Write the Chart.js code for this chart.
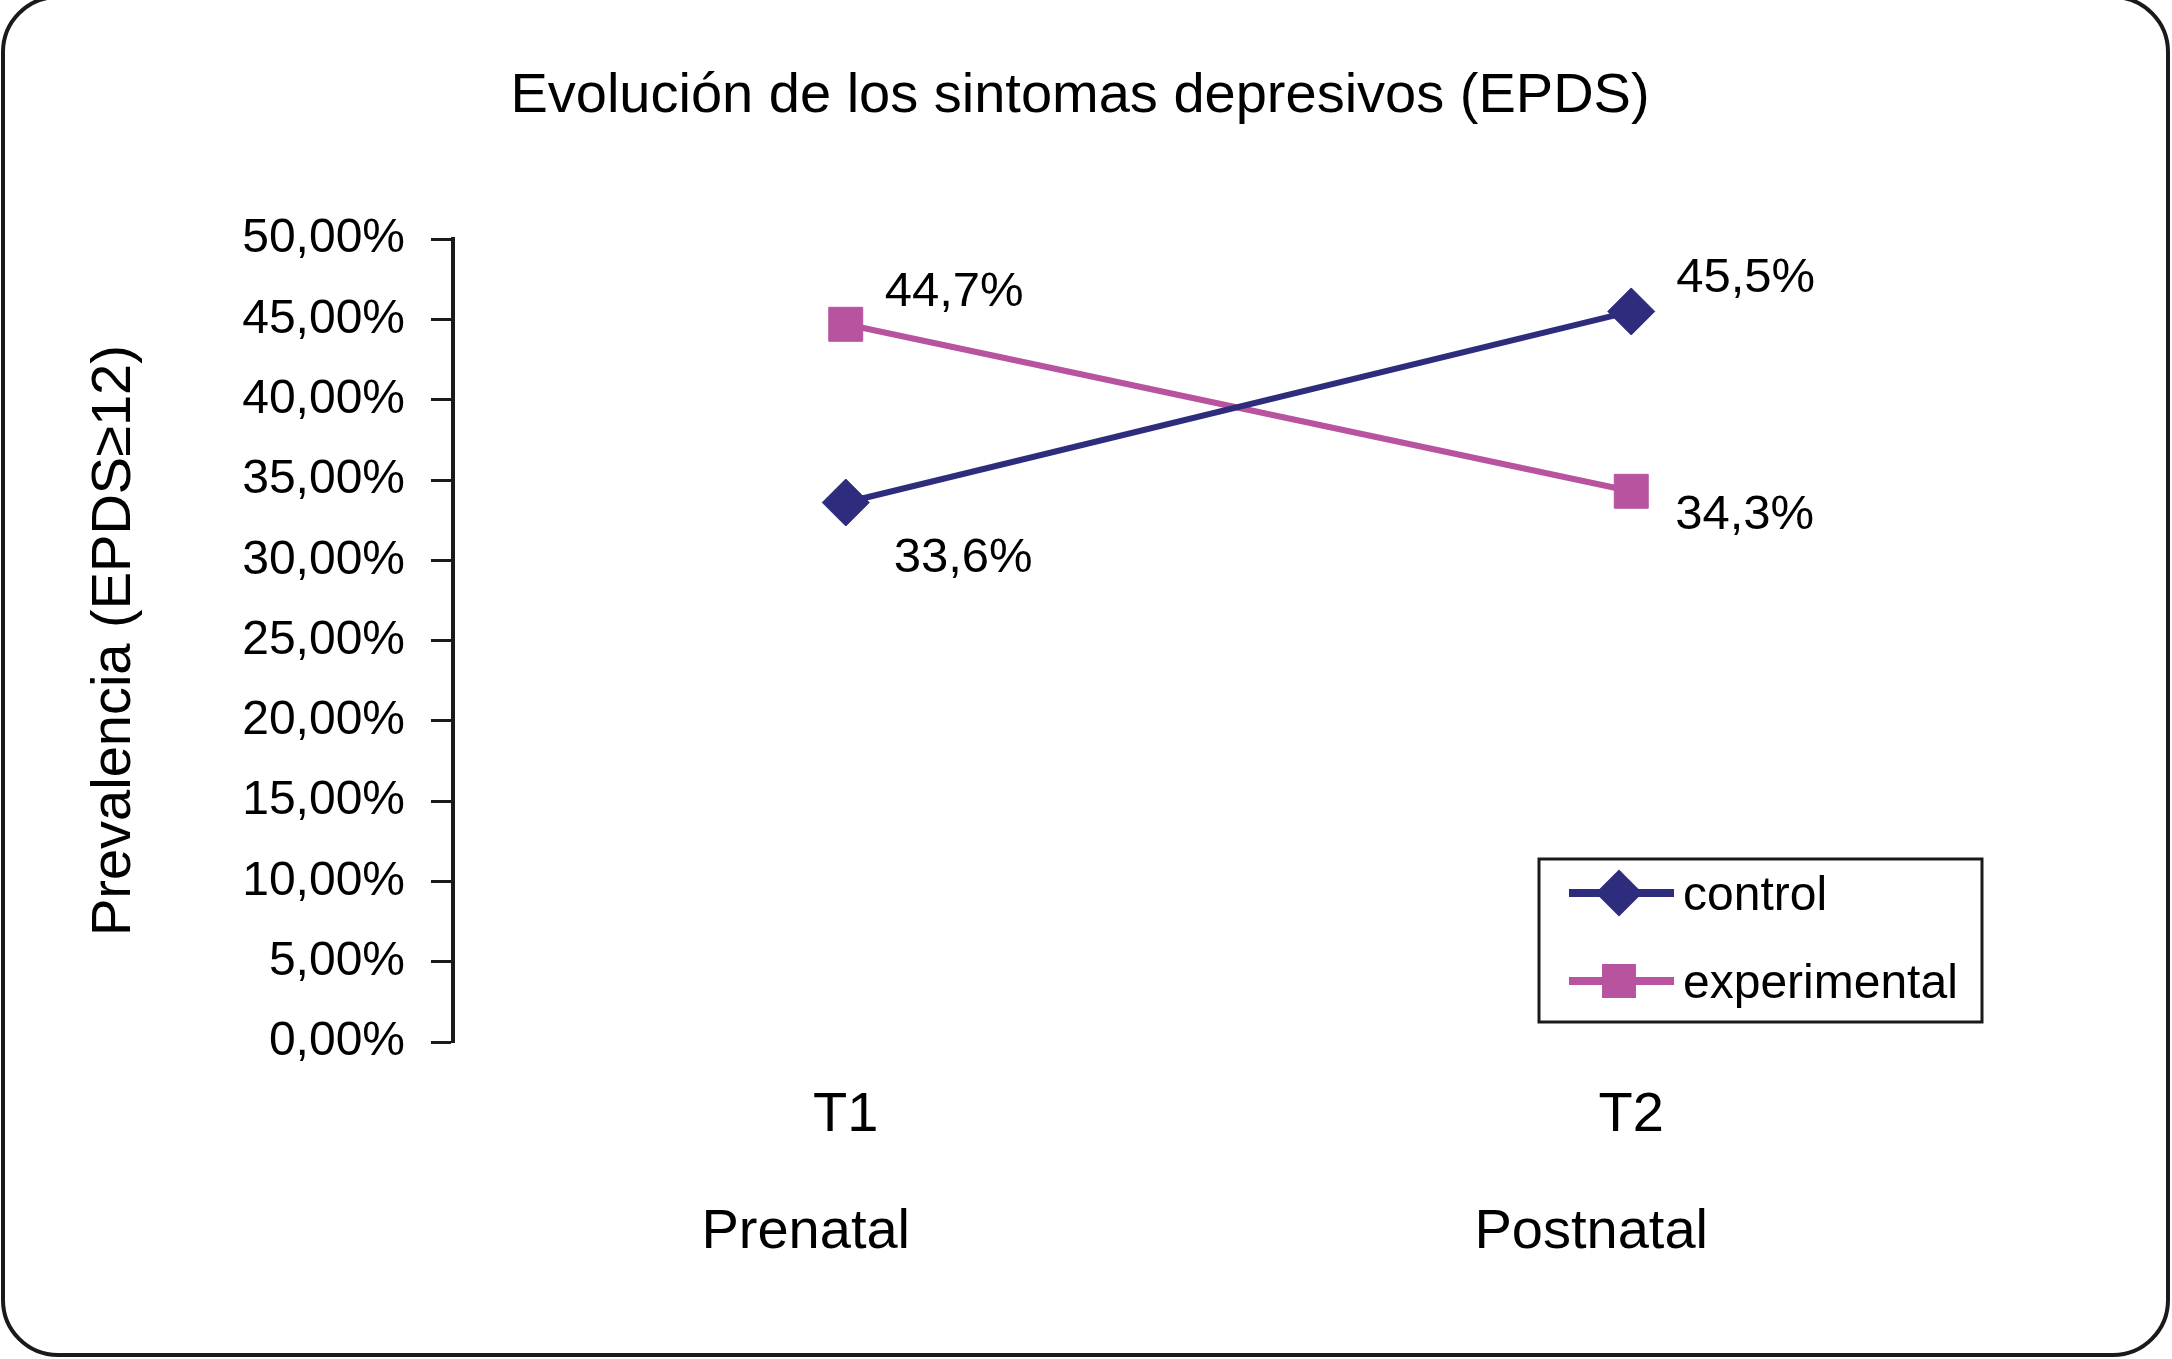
<!DOCTYPE html>
<html>
<head>
<meta charset="utf-8">
<title>Evolución de los sintomas depresivos (EPDS)</title>
<script src="https://cdn.jsdelivr.net/npm/chart.js@4.4.1/dist/chart.umd.min.js"></script>
<style>
  html, body { margin: 0; padding: 0; background: #fff; }
  canvas { display: block; }
</style>
</head>
<body>
<canvas id="epds-chart" width="2172" height="1359"></canvas>
<script>
// data
const timeLabels = ["T1", "T2"];
const phaseLabels = ["Prenatal", "Postnatal"];
const seriesNames = ["control", "experimental"];
const controlValues = [33.6, 45.5];
const experimentalValues = [44.7, 34.3];
const yAxisMax = 50;
const yAxisStep = 5;

const FONT = "'Liberation Sans', Arial, Helvetica, sans-serif";
const NAVY = "#2e2c7c";
const MAGENTA = "#b8539f";

const percentLabel = (v, digits) => v.toFixed(digits).replace(".", ",") + "%";

function drawMarker(ctx, style, x, y, radius) {
  if (Chart.helpers && Chart.helpers.drawPoint) {
    Chart.helpers.drawPoint(ctx, { pointStyle: style, radius: radius, borderWidth: 0, rotation: 0 }, x, y);
    return;
  }
  ctx.beginPath();
  if (style === "rectRot") {
    ctx.moveTo(x - radius, y);
    ctx.lineTo(x, y - radius);
    ctx.lineTo(x + radius, y);
    ctx.lineTo(x, y + radius);
  } else {
    const s = radius * Math.SQRT1_2;
    ctx.rect(x - s, y - s, 2 * s, 2 * s);
  }
  ctx.closePath();
  ctx.fill();
}

// rounded frame round the whole picture (top edge is cut off in the original)
const frameBorder = {
  id: "frameBorder",
  beforeDraw(chart) {
    const ctx = chart.ctx;
    ctx.save();
    ctx.fillStyle = "#fff";
    ctx.fillRect(0, 0, chart.width, chart.height);
    ctx.strokeStyle = "#1a1a1a";
    ctx.lineWidth = 4;
    ctx.beginPath();
    ctx.roundRect(3, -3, chart.width - 7, chart.height - 1, 55);
    ctx.stroke();
    ctx.restore();
  }
};

// "44,7%" style labels next to each point
const valueLabels = {
  id: "valueLabels",
  afterDatasetsDraw(chart, args, opts) {
    const ctx = chart.ctx;
    ctx.save();
    ctx.font = "49px " + FONT;
    ctx.fillStyle = "#000";
    ctx.textAlign = "left";
    ctx.textBaseline = "middle";
    chart.data.datasets.forEach((ds, di) => {
      const meta = chart.getDatasetMeta(di);
      meta.data.forEach((pt, i) => {
        const off = opts.offsets[di][i];
        ctx.fillText(percentLabel(ds.data[i], 1), pt.x + off.dx, pt.y + off.dy);
      });
    });
    ctx.restore();
  }
};

// legend with line + marker inside a box
const boxedLegend = {
  id: "boxedLegend",
  afterDraw(chart) {
    const { ctx, chartArea } = chart;
    const w = 443, h = 163;
    const left = chartArea.right - 42 - w;
    const top = chartArea.bottom - 20 - h;
    ctx.save();
    ctx.lineWidth = 3;
    ctx.strokeStyle = "#1a1a1a";
    ctx.strokeRect(left, top, w, h);
    ctx.font = "48px " + FONT;
    ctx.textAlign = "left";
    ctx.textBaseline = "middle";
    chart.data.datasets.forEach((ds, i) => {
      const y = top + 34 + i * 88;
      ctx.strokeStyle = ds.borderColor;
      ctx.lineWidth = 8;
      ctx.beginPath();
      ctx.moveTo(left + 30, y);
      ctx.lineTo(left + 135, y);
      ctx.stroke();
      ctx.fillStyle = ds.borderColor;
      drawMarker(ctx, ds.pointStyle, left + 80, y, ds.pointRadius);
      ctx.fillStyle = "#000";
      ctx.fillText(ds.label, left + 144, y + 4);
    });
    ctx.restore();
  }
};

new Chart(document.getElementById("epds-chart"), {
  type: "line",
  data: {
    labels: timeLabels,
    datasets: [
      {
        label: seriesNames[0],
        data: controlValues,
        borderColor: NAVY,
        backgroundColor: NAVY,
        borderWidth: 6,
        pointStyle: "rectRot",
        pointRadius: 23.5,
        pointBackgroundColor: NAVY,
        pointBorderColor: NAVY,
        pointBorderWidth: 1,
        tension: 0,
        fill: false
      },
      {
        label: seriesNames[1],
        data: experimentalValues,
        borderColor: MAGENTA,
        backgroundColor: MAGENTA,
        borderWidth: 6,
        pointStyle: "rect",
        pointRadius: 24,
        pointBackgroundColor: MAGENTA,
        pointBorderColor: MAGENTA,
        pointBorderWidth: 1,
        tension: 0,
        fill: false
      }
    ]
  },
  options: {
    responsive: false,
    animation: false,
    devicePixelRatio: 1,
    layout: { padding: { left: 10, right: 22, top: 0, bottom: 0 } },
    plugins: {
      legend: { display: false },
      tooltip: { enabled: false },
      title: {
        display: true,
        text: "Evolución de los sintomas depresivos (EPDS)",
        color: "#000",
        font: { family: FONT, size: 56, weight: "normal", lineHeight: 1.2 },
        padding: { top: 63, bottom: 109 }
      },
      valueLabels: {
        offsets: [
          [{ dx: 48, dy: 56 }, { dx: 45, dy: -33 }],
          [{ dx: 39, dy: -32 }, { dx: 44, dy: 24 }]
        ]
      }
    },
    scales: {
      x: {
        type: "category",
        offset: true,
        weight: 0,
        grid: { display: false, drawTicks: false },
        border: { display: false },
        ticks: {
          color: "#000",
          font: { family: FONT, size: 56, lineHeight: 1.2 },
          padding: 40,
          maxRotation: 0
        },
        afterFit: (scale) => { scale.height = 117; }
      },
      x2: {
        type: "category",
        position: "bottom",
        labels: phaseLabels,
        offset: true,
        weight: 1,
        grid: { display: false, drawTicks: false },
        border: { display: false },
        ticks: {
          color: "#000",
          font: { family: FONT, size: 56, lineHeight: 1.2 },
          padding: 40,
          labelOffset: -40,
          maxRotation: 0
        },
        afterFit: (scale) => { scale.height = 200; }
      },
      y: {
        min: 0,
        max: yAxisMax,
        position: "left",
        grid: {
          display: true,
          drawOnChartArea: false,
          drawTicks: true,
          tickLength: 22,
          tickColor: "#1a1a1a",
          tickWidth: 3
        },
        border: { display: true, color: "#1a1a1a", width: 4 },
        ticks: {
          stepSize: yAxisStep,
          color: "#000",
          padding: 26,
          font: { family: FONT, size: 48 },
          callback: (v) => percentLabel(v, 2)
        },
        title: {
          display: true,
          text: "Prevalencia (EPDS≥12)",
          color: "#000",
          font: { family: FONT, size: 56, lineHeight: 1.2 },
          padding: { top: 71, bottom: 0 }
        },
        afterFit: (scale) => { scale.width = 443; }
      },
      yPad: {
        position: "right",
        display: true,
        grid: { display: false, drawTicks: false },
        border: { display: false },
        ticks: { display: false },
        afterFit: (scale) => { scale.width = 126; }
      }
    }
  },
  plugins: [frameBorder, valueLabels, boxedLegend]
});
</script>
</body>
</html>
